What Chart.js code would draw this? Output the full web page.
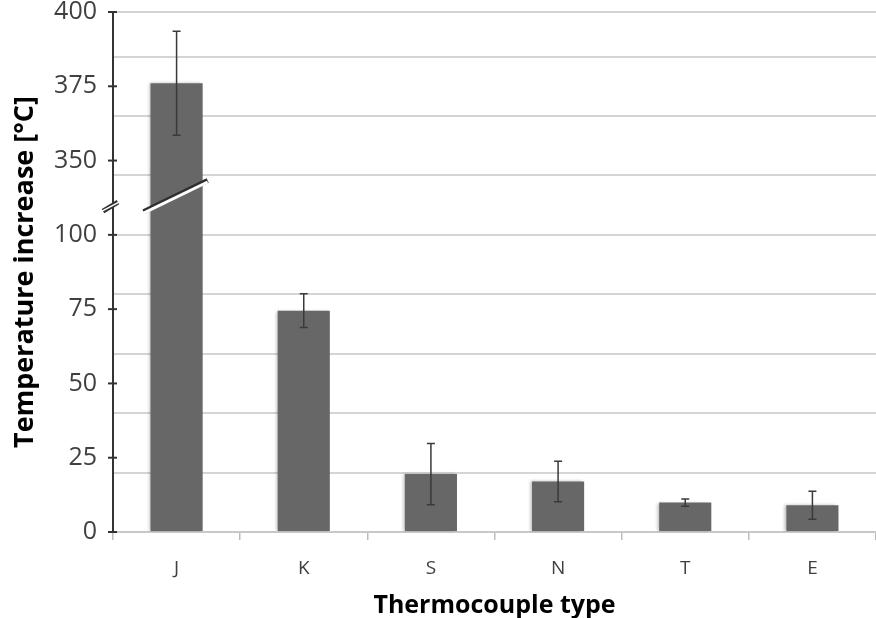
<!DOCTYPE html>
<html lang="en">
<head>
  <meta charset="UTF-8" />
  <title>Thermocouple temperature increase</title>
  <script src="https://cdn.jsdelivr.net/npm/chart.js"></script>
  <style>
    html, body { margin: 0; padding: 0; background: #fff; }
    .wrap { width: 876px; height: 618px; position: relative; }
  </style>
</head>
<body>
  <div class="wrap">
    <canvas id="tcChart"></canvas>
  </div>

  <script>
    // data
    const categories = ['J', 'K', 'S', 'N', 'T', 'E'];
    const means = [376, 74.5, 19.5, 17, 9.9, 9];
    const errors = [17.5, 5.7, 10.3, 6.8, 1.2, 4.7];

    // broken axis: 0-100 below the break, 350-400 above it
    const breakLow = 100;
    const breakHigh = 350;
    const breakGap = 25;  // axis units kept between 100 and 350
    const axisTop = 175;

    function toAxis(v) {
      return v <= breakLow ? v : v - (breakHigh - breakLow - breakGap);
    }
    function fromAxis(v) {
      return v <= breakLow ? v : v + (breakHigh - breakLow - breakGap);
    }

    const FONT = "'Open Sans', 'DejaVu Sans', sans-serif";

    // error bars
    const errorBars = {
      id: 'errorBars',
      afterDatasetsDraw(chart) {
        const ctx = chart.ctx;
        const y = chart.scales.yl;
        const meta = chart.getDatasetMeta(0);
        ctx.save();
        ctx.strokeStyle = '#3a3a3a';
        ctx.lineWidth = 1.5;
        meta.data.forEach((bar, i) => {
          const top = y.getPixelForValue(toAxis(means[i] + errors[i]));
          const bot = y.getPixelForValue(toAxis(means[i] - errors[i]));
          ctx.beginPath();
          ctx.moveTo(bar.x, top); ctx.lineTo(bar.x, bot);
          ctx.moveTo(bar.x - 4, top); ctx.lineTo(bar.x + 4, top);
          ctx.moveTo(bar.x - 4, bot); ctx.lineTo(bar.x + 4, bot);
          ctx.stroke();
        });
        ctx.restore();
      }
    };

    // break marks on the axis and across the tall bar, tick marks across the axis
    const breakMarks = {
      id: 'breakMarks',
      afterDraw(chart) {
        const ctx = chart.ctx;
        const y = chart.scales.yl;
        const axisX = chart.chartArea.left;
        const bar = chart.getDatasetMeta(0).data[0];

        ctx.save();
        ctx.strokeStyle = '#333';
        ctx.lineWidth = 2;
        y.ticks.forEach(t => {
          const py = y.getPixelForValue(t.value);
          ctx.beginPath();
          ctx.moveTo(axisX - 5, py); ctx.lineTo(axisX + 4, py);
          ctx.stroke();
        });

        // on the axis
        const ay1 = y.getPixelForValue(108);
        const ay2 = y.getPixelForValue(111);
        ctx.lineCap = 'butt';
        ctx.strokeStyle = '#333';
        ctx.lineWidth = 5;
        ctx.beginPath();
        ctx.moveTo(axisX - 10, ay1); ctx.lineTo(axisX + 5, ay2);
        ctx.stroke();
        ctx.strokeStyle = '#fff';
        ctx.lineWidth = 1.5;
        ctx.beginPath();
        ctx.moveTo(axisX - 11, ay1); ctx.lineTo(axisX + 6, ay2);
        ctx.stroke();

        // across bar J
        const x1 = bar.x - bar.width / 2 - 7;
        const x2 = bar.x + bar.width / 2 + 5;
        const y1 = y.getPixelForValue(107.8);
        const y2 = y.getPixelForValue(118.3);
        ctx.strokeStyle = '#2e2e2e';
        ctx.lineWidth = 5;
        ctx.beginPath();
        ctx.moveTo(x1, y1); ctx.lineTo(x2, y2);
        ctx.stroke();
        ctx.strokeStyle = '#fff';
        ctx.lineWidth = 3;
        ctx.beginPath();
        ctx.moveTo(x1, y1 + 1.5); ctx.lineTo(x2, y2 + 1.5);
        ctx.stroke();
        ctx.restore();
      }
    };

    // soft shadow to the left of bars
    const barShadow = {
      id: 'barShadow',
      beforeDatasetDraw(chart) {
        const ctx = chart.ctx;
        ctx.save();
        ctx.shadowColor = 'rgba(0,0,0,0.25)';
        ctx.shadowBlur = 3;
        ctx.shadowOffsetX = -2;
        ctx.shadowOffsetY = 0;
      },
      afterDatasetDraw(chart) {
        chart.ctx.restore();
      }
    };

    const ctx = document.getElementById('tcChart').getContext('2d');
    new Chart(ctx, {
      type: 'bar',
      data: {
        labels: categories,
        datasets: [{
          data: means.map(toAxis),
          backgroundColor: '#676767',
          borderWidth: 0,
          barPercentage: 0.41,
          categoryPercentage: 1
        }]
      },
      options: {
        responsive: true,
        maintainAspectRatio: false,
        animation: false,
        layout: { padding: { top: 12, right: 0, bottom: 0, left: 0 } },
        plugins: {
          legend: { display: false },
          tooltip: { enabled: false }
        },
        scales: {
          x: {
            grid: {
              offset: true,
              drawOnChartArea: false,
              tickLength: 8,
              color: '#bdbdbd',
              lineWidth: 1.5
            },
            border: { color: '#c8c8c8', width: 2 },
            ticks: {
              color: '#404040',
              padding: 17,
              font: { family: FONT, size: 19 }
            },
            title: {
              display: true,
              text: 'Thermocouple type',
              color: '#000',
              padding: { top: 0, bottom: 0 },
              font: { family: FONT, size: 25, weight: 'bold', lineHeight: 1 }
            },
            afterFit: s => { s.height = 86; }
          },
          y: {
            position: 'left',
            min: 0,
            max: axisTop,
            ticks: { display: false, stepSize: 20 },
            grid: { color: '#d4d4d4', lineWidth: 2, drawTicks: false },
            border: { display: false },
            afterFit: s => { s.width = 0; }
          },
          yl: {
            position: 'left',
            min: 0,
            max: axisTop,
            ticks: {
              stepSize: 25,
              color: '#404040',
              padding: 0,
              font: { family: FONT, size: 25, lineHeight: 0.9 },
              callback: v => fromAxis(v)
            },
            grid: {
              drawOnChartArea: false,
              tickLength: 16,
              color: 'rgba(0,0,0,0)',
              lineWidth: 2
            },
            border: { color: '#333', width: 2 },
            title: {
              display: true,
              text: 'Temperature increase [°C]',
              color: '#000',
              padding: { top: 9, bottom: 0 },
              font: { family: FONT, size: 27, weight: 'bold' }
            },
            afterFit: s => { s.width = 113; }
          }
        }
      },
      plugins: [barShadow, errorBars, breakMarks]
    });
  </script>
</body>
</html>
